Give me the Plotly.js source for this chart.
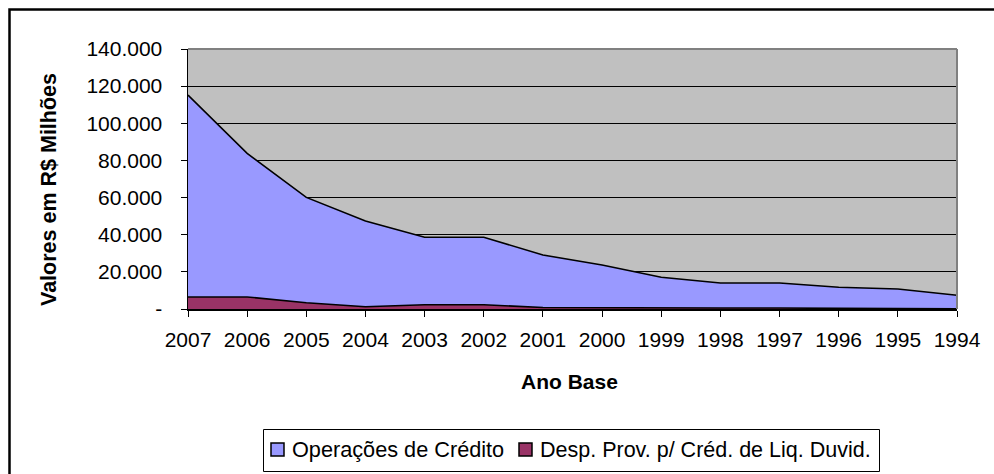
<!DOCTYPE html>
<html>
<head>
<meta charset="utf-8">
<script src="https://cdn.plot.ly/plotly-3.0.1.min.js"></script>
<style>html,body{margin:0;padding:0;background:#fff;}#chart{width:994px;height:474px;}</style>
</head>
<body>
<div id="chart"></div>
<script>
var anos = ['2007','2006','2005','2004','2003','2002','2001','2000','1999','1998','1997','1996','1995','1994'];
var operacoesCredito = [115200, 83800, 60100, 47400, 38600, 38600, 29100, 23700, 17100, 14000, 14000, 11700, 10800, 7400];
var despProv = [6500, 6500, 3400, 1200, 2300, 2300, 800, 600, 500, 500, 500, 400, 400, 100];
var yTickVals = [0, 20000, 40000, 60000, 80000, 100000, 120000, 140000];
var yTickText = ['-', '20.000', '40.000', '60.000', '80.000', '100.000', '120.000', '140.000'];
var nomeSerie1 = 'Operações de Crédito';
var nomeSerie2 = 'Desp. Prov. p/ Créd. de Liq. Duvid.';

var FONT = 'Liberation Sans, Arial, sans-serif';
var W = 994, H = 474, L = 188, R = 37, T = 49, B = 165;
var pw = W - L - R, ph = H - T - B;
function px(x){ return (x - L) / pw; }
function py(y){ return (H - B - y) / ph; }

var traces = [
  {x: anos, y: operacoesCredito, type: 'scatter', mode: 'lines', fill: 'tozeroy',
   fillcolor: '#9999FF', line: {color: '#000000', width: 1.6}, name: nomeSerie1, showlegend: false, hoverinfo: 'skip'},
  {x: anos, y: despProv, type: 'scatter', mode: 'lines', fill: 'tozeroy',
   fillcolor: '#993366', line: {color: '#000000', width: 1.6}, name: nomeSerie2, showlegend: false, hoverinfo: 'skip'}
];

var layout = {
  width: W, height: H,
  margin: {l: L, r: R, t: T, b: B, pad: 0},
  paper_bgcolor: '#ffffff',
  plot_bgcolor: '#C0C0C0',
  font: {family: FONT, size: 21, color: '#000'},
  showlegend: false,
  xaxis: {
    type: 'category', range: [0, anos.length - 1],
    showgrid: false, zeroline: false,
    showline: true, linecolor: '#000', linewidth: 1.5,
    ticks: 'outside', ticklen: 6, tickcolor: '#000', tickwidth: 1,
    tickfont: {family: FONT, size: 21, color: '#000'},
    ticklabelstandoff: 5
  },
  yaxis: {
    range: [0, 140000], tickvals: yTickVals, ticktext: yTickText,
    showgrid: true, gridcolor: '#000', gridwidth: 1,
    zeroline: false,
    showline: true, linecolor: '#000', linewidth: 1.5,
    ticks: 'outside', ticklen: 6, tickcolor: '#000', tickwidth: 1,
    tickfont: {family: FONT, size: 21, color: '#000'},
    ticklabelstandoff: 14
  },
  shapes: [
    {type: 'rect', xref: 'paper', yref: 'paper', x0: px(9.5), x1: px(1010), y0: py(490), y1: py(9.5),
     line: {color: '#000', width: 2.5}, fillcolor: 'rgba(0,0,0,0)', layer: 'above'},
    {type: 'line', xref: 'paper', yref: 'paper', x0: 0, x1: 1, y0: 1, y1: 1, line: {color: '#808080', width: 2}, layer: 'above'},
    {type: 'line', xref: 'paper', yref: 'paper', x0: 1, x1: 1, y0: 0, y1: 1, line: {color: '#808080', width: 2}, layer: 'above'},
    {type: 'rect', xref: 'paper', yref: 'paper', x0: px(263.5), x1: px(879.5), y0: py(471.5), y1: py(429.5),
     line: {color: '#000', width: 1}, fillcolor: '#ffffff', layer: 'above'},
    {type: 'rect', xref: 'paper', yref: 'paper', x0: px(271), x1: px(284), y0: py(456), y1: py(443),
     line: {color: '#000', width: 1.5}, fillcolor: '#9999FF', layer: 'above'},
    {type: 'rect', xref: 'paper', yref: 'paper', x0: px(519), x1: px(532), y0: py(456), y1: py(443),
     line: {color: '#000', width: 1.5}, fillcolor: '#993366', layer: 'above'}
  ],
  annotations: [
    {text: 'Valores em R$ Milhões', xref: 'paper', yref: 'paper', x: px(49), y: py(190),
     xanchor: 'center', yanchor: 'middle', textangle: -90, showarrow: false,
     font: {family: FONT, size: 21.5, color: '#000', weight: 'bold'}},
    {text: 'Ano Base', xref: 'paper', yref: 'paper', x: px(569), y: py(381),
     xanchor: 'center', yanchor: 'middle', showarrow: false,
     font: {family: FONT, size: 21, color: '#000', weight: 'bold'}},
    {text: nomeSerie1, xref: 'paper', yref: 'paper', x: px(290), y: py(450),
     xanchor: 'left', yanchor: 'middle', showarrow: false,
     font: {family: FONT, size: 21.7, color: '#000'}},
    {text: nomeSerie2, xref: 'paper', yref: 'paper', x: px(538), y: py(450),
     xanchor: 'left', yanchor: 'middle', showarrow: false,
     font: {family: FONT, size: 21.5, color: '#000'}}
  ]
};

Plotly.newPlot('chart', traces, layout, {staticPlot: true, displayModeBar: false});
</script>
</body>
</html>
